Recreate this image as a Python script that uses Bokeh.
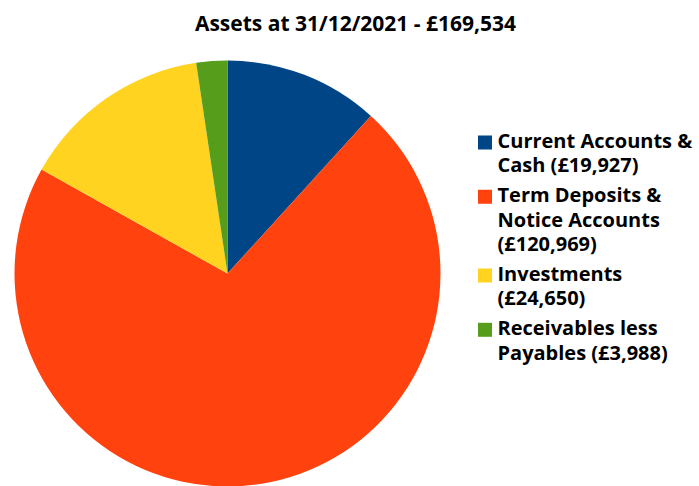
import numpy as np
from bokeh.plotting import figure
from bokeh.models import Range1d, ColumnDataSource
from bokeh.core.properties import value
from bokeh.embed import file_html
from bokeh.resources import INLINE

# ---- data ----
title_text = "Assets at 31/12/2021 - £169,534"
categories = ["Current Accounts &\nCash", "Term Deposits &\nNotice Accounts\n",
              "Investments\n", "Receivables less\nPayables"]
values = [19927, 120969, 24650, 3988]
colors = ["#004586", "#ff420e", "#ffd320", "#579d1c"]

W, H = 699, 486
FONT = "Open Sans"

p = figure(width=W, height=H, output_backend="svg", toolbar_location=None,
           x_range=Range1d(0, W), y_range=Range1d(0, H), min_border=0)
p.axis.visible = False
p.grid.visible = False
p.outline_line_color = None
p.background_fill_color = "white"
p.border_fill_color = "white"

# ---- pie ----
vals = np.array(values, dtype=float)
total = vals.sum()
cum = np.cumsum(vals)
prev = np.concatenate([[0], cum[:-1]])
start = np.pi / 2 - 2 * np.pi * prev / total
end = np.pi / 2 - 2 * np.pi * cum / total
cx, cy, r = 227, H - 273, 213
src = ColumnDataSource(dict(start=start, end=end, color=colors))
p.wedge(x=cx, y=cy, radius=r, start_angle="start", end_angle="end",
        direction="clock", fill_color="color", line_color=None, source=src)

# ---- title ----
p.text(x=[355], y=[H - 22], text=[title_text], text_font=value(FONT),
       text_font_style="bold", text_font_size="21px", text_align="center",
       text_baseline="middle", text_color="#000000")

# ---- legend ----
line_h = 24.4
gap = 5.5
y = 140  # page y of first line center
lx, ly, ltext = [], [], []
sx, sy = [], []
for cat, v, c in zip(categories, values, colors):
    sep = "" if cat.endswith("\n") else " "
    label = f"{cat}{sep}(£{v:,})"
    lines = label.split("\n")
    sx.append(484.5)
    sy.append(H - y - 2)
    for ln in lines:
        lx.append(497)
        ly.append(H - y)
        ltext.append(ln)
        y += line_h
    y += gap
p.rect(x=sx, y=sy, width=14, height=14, fill_color=colors, line_color=None)
p.text(x=lx, y=ly, text=ltext, text_font=value(FONT), text_font_style="bold",
       text_font_size="20px", text_align="left", text_baseline="middle",
       text_color="#000000")

open("out.html", "w").write(file_html(p, INLINE))
